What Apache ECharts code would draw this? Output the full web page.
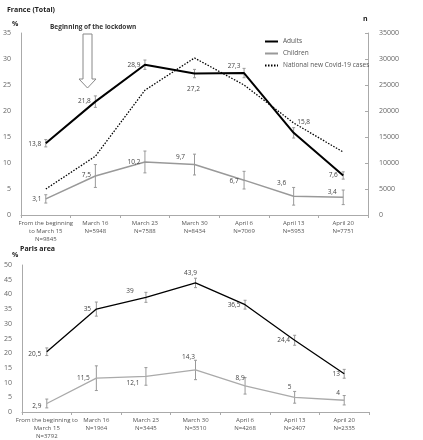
<!DOCTYPE html>
<html><head><meta charset="utf-8">
<script src="https://cdn.jsdelivr.net/npm/echarts@6/dist/echarts.min.js"></script>
<style>html,body{margin:0;padding:0;background:#fff}#c{width:423px;height:440px}</style>
</head><body><div id="c"></div>
<script>
// ---- DATA ----
const catFrance = ['From the beginning\nto March 15\nN=9845','March 16\nN=5948','March 23\nN=7588','March 30\nN=8434','April 6\nN=7069','April 13\nN=5953','April 20\nN=7751'];
const catParis = ['From the beginning to\nMarch 15\nN=3792','March 16\nN=1964','March 23\nN=3445','March 30\nN=3510','April 6\nN=4268','April 13\nN=2407','April 20\nN=2335'];
const franceAdults = [13.8, 21.8, 28.9, 27.2, 27.3, 15.8, 7.6];
const franceAdultsErr = [0.7, 1.1, 0.9, 0.8, 0.9, 1.0, 0.7];
const franceChildren = [3.1, 7.5, 10.2, 9.7, 6.7, 3.6, 3.4];
const franceChildrenErr = [0.8, 2.2, 2.1, 2.0, 1.7, 1.7, 1.4];
const nationalCases = [5000, 11300, 24000, 30200, 25000, 17700, 12100];
const parisAdults = [20.5, 35, 39, 43.9, 36.5, 24.4, 13];
const parisAdultsErr = [1.3, 2.4, 1.7, 1.6, 1.5, 1.7, 1.5];
const parisChildren = [2.9, 11.5, 12.1, 14.3, 8.9, 5, 4];
const parisChildrenErr = [1.5, 4.2, 3.0, 3.3, 2.8, 2.0, 1.6];
const leftTicksFrance = [0, 35, 5];
const rightTicksFrance = [0, 35000, 5000];
const leftTicksParis = [0, 50, 5];
const legendNames = ['Adults','Children','National new Covid-19 cases'];

// ---- label offsets (style) ----
const offFA = [[-11,1],[-11,0],[-11,0],[-1,16],[-10,-7],[10,-11],[-10,0]];
const offFC = [[-9,0],[-9,-1],[-11,0],[-14,-7],[-10,1],[-12,-13],[-11,-5]];
const offPA = [[-12,2],[-9,0],[-16,-6],[-5,-10],[-11,0],[-11,0],[-8,0]];
const offPC = [[-10,3],[-13,0],[-13,7],[-7,-13],[-5,-8],[-5,-10],[-6,-7]];

const FONT = 'Open Sans, Liberation Sans, sans-serif';
const fmt = v => String(v).replace('.', ',');
function labeled(vals, offs){
  return vals.map((v,i)=>({value:v, label:{show:true, position:'inside', offset:offs[i], formatter:fmt(v), color:'#444', fontSize:6.5, fontFamily:FONT}}));
}
function errSeries(xi, yi, vals, errs){
  return {
    type:'custom', xAxisIndex:xi, yAxisIndex:yi, silent:true, z:1,
    data: vals.map((v,i)=>[i, v-errs[i], v+errs[i]]),
    encode:{x:0, y:[1,2]},
    renderItem:(params, api)=>{
      const lo = api.coord([api.value(0), api.value(1)]);
      const hi = api.coord([api.value(0), api.value(2)]);
      const w = 1.5, st = {stroke:'#999', lineWidth:1};
      return {type:'group', children:[
        {type:'line', shape:{x1:lo[0],y1:lo[1],x2:hi[0],y2:hi[1]}, style:st},
        {type:'line', shape:{x1:lo[0]-w,y1:lo[1],x2:lo[0]+w,y2:lo[1]}, style:st},
        {type:'line', shape:{x1:hi[0]-w,y1:hi[1],x2:hi[0]+w,y2:hi[1]}, style:st}
      ]};
    }
  };
}
const axisLabelX = {interval:0, fontSize:6, color:'#555', fontFamily:FONT, lineHeight:8, margin:4};
const axLine = {show:true, lineStyle:{color:'#aaa', width:1}};
const yLab = {fontSize:7, color:'#666', fontFamily:FONT, margin:10};
const tinySym = {symbol:'circle', symbolSize:0.1, showSymbol:true};

const chart = echarts.init(document.getElementById('c'), null, {renderer:'canvas'});
chart.setOption({
  animation:false,
  backgroundColor:'#fff',
  grid:[
    {left:20, right:55, top:33, height:182},
    {left:22, right:54, top:265, height:152}
  ],
  legend:{
    orient:'vertical', left:259, top:33, itemWidth:13, itemHeight:6, itemGap:5,
    itemStyle:{opacity:0},
    textStyle:{fontSize:6.5, color:'#555', fontFamily:FONT},
    data:legendNames
  },
  xAxis:[
    {type:'category', gridIndex:0, data:catFrance, axisLine:axLine, axisTick:{show:true, interval:0, length:3, lineStyle:{color:'#aaa'}}, axisLabel:axisLabelX},
    {type:'category', gridIndex:1, data:catParis, axisLine:axLine, axisTick:{show:true, interval:0, length:3, lineStyle:{color:'#aaa'}}, axisLabel:axisLabelX}
  ],
  yAxis:[
    {type:'value', gridIndex:0, min:leftTicksFrance[0], max:leftTicksFrance[1], interval:leftTicksFrance[2], axisLine:axLine, axisTick:{show:false}, splitLine:{show:false}, axisLabel:yLab},
    {type:'value', gridIndex:0, position:'right', min:rightTicksFrance[0], max:rightTicksFrance[1], interval:rightTicksFrance[2], axisLine:axLine, axisTick:{show:true, inside:true, length:3, lineStyle:{color:'#aaa'}}, splitLine:{show:false}, axisLabel:Object.assign({}, yLab, {margin:11, formatter:v=>String(v)})},
    {type:'value', gridIndex:1, min:leftTicksParis[0], max:leftTicksParis[1], interval:leftTicksParis[2], axisLine:axLine, axisTick:{show:false}, splitLine:{show:false}, axisLabel:yLab}
  ],
  series:[
    errSeries(0,0,franceAdults,franceAdultsErr),
    errSeries(0,0,franceChildren,franceChildrenErr),
    errSeries(1,2,parisAdults,parisAdultsErr),
    errSeries(1,2,parisChildren,parisChildrenErr),
    Object.assign({name:legendNames[0], type:'line', xAxisIndex:0, yAxisIndex:0, data:labeled(franceAdults, offFA), lineStyle:{color:'#000', width:2}, itemStyle:{color:'#000'}, z:3}, tinySym),
    Object.assign({name:legendNames[1], type:'line', xAxisIndex:0, yAxisIndex:0, data:labeled(franceChildren, offFC), lineStyle:{color:'#999', width:1.5}, itemStyle:{color:'#999'}, z:3}, tinySym),
    {name:legendNames[2], type:'line', xAxisIndex:0, yAxisIndex:1, data:nationalCases, symbol:'none', lineStyle:{color:'#000', width:1.3, type:[1.5,1.5]}, itemStyle:{color:'#000'}, z:2},
    Object.assign({name:'Paris adults', type:'line', xAxisIndex:1, yAxisIndex:2, data:labeled(parisAdults, offPA), lineStyle:{color:'#000', width:1.3}, itemStyle:{color:'#000'}, z:3}, tinySym),
    Object.assign({name:'Paris children', type:'line', xAxisIndex:1, yAxisIndex:2, data:labeled(parisChildren, offPC), lineStyle:{color:'#aaa', width:1.3}, itemStyle:{color:'#aaa'}, z:3}, tinySym)
  ],
  graphic:[
    {type:'text', left:7, top:6, style:{text:'France (Total)', font:'bold 7px '+FONT, fill:'#222'}},
    {type:'text', left:12, top:20, style:{text:'%', font:'bold 7px '+FONT, fill:'#222'}},
    {type:'text', left:363, top:15, style:{text:'n', font:'bold 7px '+FONT, fill:'#222'}},
    {type:'text', left:50, top:24, style:{text:'Beginning of the lockdown', font:'bold 6.5px '+FONT, fill:'#333'}},
    {type:'polygon', shape:{points:[[83,34],[92,34],[92,79],[96,79],[87.5,88],[79,79],[83,79]]}, style:{fill:'#fff', stroke:'#888', lineWidth:1}},
    {type:'text', left:20, top:245, style:{text:'Paris area', font:'bold 7px '+FONT, fill:'#222'}},
    {type:'text', left:12, top:251, style:{text:'%', font:'bold 7px '+FONT, fill:'#222'}}
  ]
});
</script></body></html>
